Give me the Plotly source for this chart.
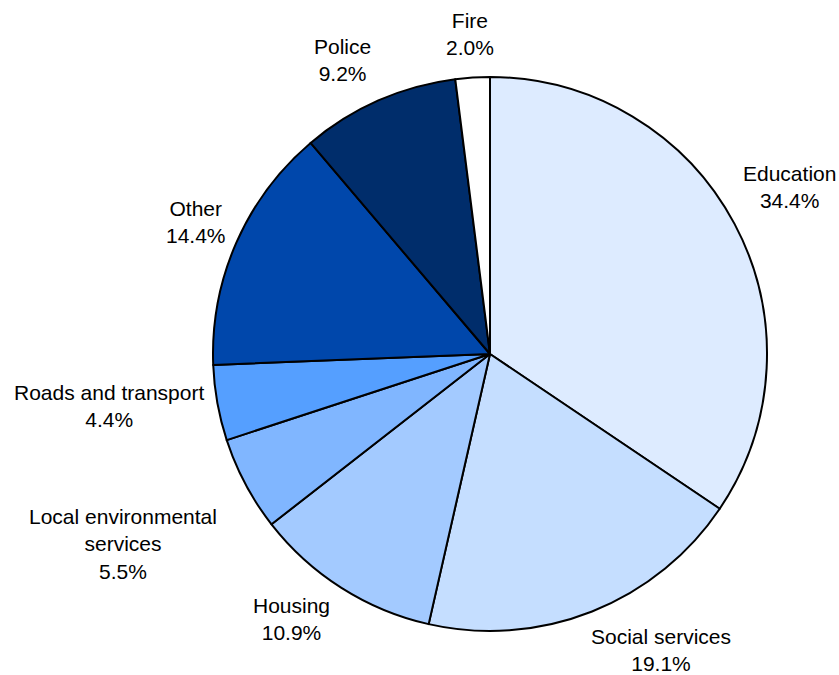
import math
import plotly.graph_objects as go

# Spending shares by service
labels = ["Education", "Social services", "Housing", "Local environmental<br>services",
          "Roads and transport", "Other", "Police", "Fire"]
shares = [34.4, 19.1, 10.9, 5.5, 4.4, 14.4, 9.2, 2.0]
colors = ["#DDEBFF", "#C5DEFF", "#A3CAFF", "#80B6FF", "#559FFF", "#0047AB", "#002D6B", "#FFFFFF"]

W, H = 839, 675
CX, CY, R = 490, 354, 277      # pie centre and radius in pixels
FONT_SIZE = 21

# label placement: distance of each label's centre from the pie centre (px)
# and a small turn (degrees) away from the slice bisector to avoid crowding
LABEL_DIST = [342.8, 341.6, 330.8, 413.2, 385, 322.5, 329.1, 321]
LABEL_TURN = [-1.1, -8.4, 4.4, 0.7, 2.4, 0.4, -2.9, 0.0]

fig = go.Figure(go.Pie(
    labels=[l.replace("<br>", " ") for l in labels],
    values=shares,
    sort=False,
    direction="clockwise",
    rotation=0,
    marker=dict(colors=colors, line=dict(color="#000000", width=2)),
    textinfo="none",
    hoverinfo="label+percent",
    showlegend=False,
    domain=dict(x=[(CX - R) / W, (CX + R) / W], y=[(H - CY - R) / H, (H - CY + R) / H]),
))

total = sum(shares)
annotations = []
acc = 0.0
for lab, v, dist, turn in zip(labels, shares, LABEL_DIST, LABEL_TURN):
    mid = (acc + v / 2) / total * 360 + turn
    acc += v
    a = math.radians(mid)
    px = CX + dist * math.sin(a)
    py = CY - dist * math.cos(a)
    annotations.append(dict(
        x=px / W, y=1 - py / H, xref="paper", yref="paper",
        text=f"{lab}<br>{v:.1f}%", showarrow=False,
        xanchor="center", yanchor="middle", align="center", borderpad=0,
        font=dict(family="Liberation Sans, Arial, sans-serif", size=FONT_SIZE, color="#000000"),
    ))

fig.update_layout(
    width=W, height=H,
    margin=dict(l=0, r=0, t=0, b=0),
    paper_bgcolor="#FFFFFF",
    plot_bgcolor="#FFFFFF",
    annotations=annotations,
)

fig.write_html("out.html")
